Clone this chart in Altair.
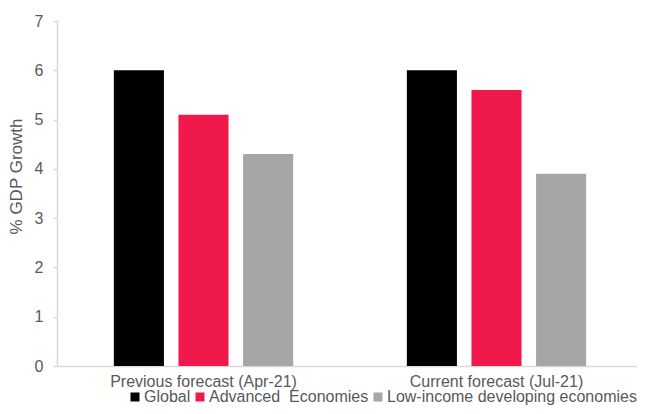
import altair as alt
import pandas as pd

periods = ["Previous forecast (Apr-21)", "Current forecast (Jul-21)"]
series = ["Global", "Advanced\u00a0 Economies", "Low-income developing economies"]
global_vals = [6.0, 6.0]
advanced_vals = [5.1, 5.6]
lowincome_vals = [4.3, 3.9]
colors = ["#000000", "#F0194B", "#A6A6A6"]

rows = []
for i, p in enumerate(periods):
    for s, vals in zip(series, [global_vals, advanced_vals, lowincome_vals]):
        rows.append({"period": p, "series": s, "value": vals[i]})
df = pd.DataFrame(rows)

FONT = "Liberation Sans"
TXT = "#595959"
GRID = "#D9D9D9"

chart = alt.Chart(df).mark_bar().encode(
    x=alt.X("period:N", sort=periods, title=None,
            scale=alt.Scale(paddingInner=0, paddingOuter=0, range=[0, 586]),
            axis=alt.Axis(labelAngle=0, ticks=False, domainColor=GRID, domainWidth=1.5,
                          labelColor=TXT, labelFont=FONT, labelFontSize=16, labelPadding=7,
                          labelLimit=400)),
    xOffset=alt.XOffset("series:N", sort=series,
                        scale=alt.Scale(paddingInner=0.225, paddingOuter=0.88)),
    y=alt.Y("value:Q", title="% GDP Growth",
            scale=alt.Scale(domain=[0, 7], nice=False),
            axis=alt.Axis(values=[0, 1, 2, 3, 4, 5, 6, 7], format="d", grid=False,
                          domainColor=GRID, domainWidth=1.5, tickColor=GRID, tickSize=4, tickWidth=1.5,
                          labelColor=TXT, labelFont=FONT, labelFontSize=16, labelPadding=10,
                          titleColor=TXT, titleFont=FONT, titleFontSize=17, titleFontWeight="normal",
                          titlePadding=9, titleY=155)),
    color=alt.Color("series:N", sort=series,
                    scale=alt.Scale(domain=series, range=colors),
                    legend=alt.Legend(title=None, orient="none", legendX=70, legendY=368,
                                      direction="horizontal", symbolType="square", symbolSize=81,
                                      symbolStrokeWidth=0, labelFont=FONT, labelFontSize=16,
                                      labelColor=TXT, labelOffset=1, columnPadding=1,
                                      labelLimit=400, padding=0)),
).properties(
    width=580, height=345,
    autosize=alt.AutoSizeParams(type="none"),
    padding={"left": 49, "top": 13, "right": 0, "bottom": 40},
).configure_view(stroke=None)

chart.save("out.html", embed_options={"renderer": "svg", "actions": False})
